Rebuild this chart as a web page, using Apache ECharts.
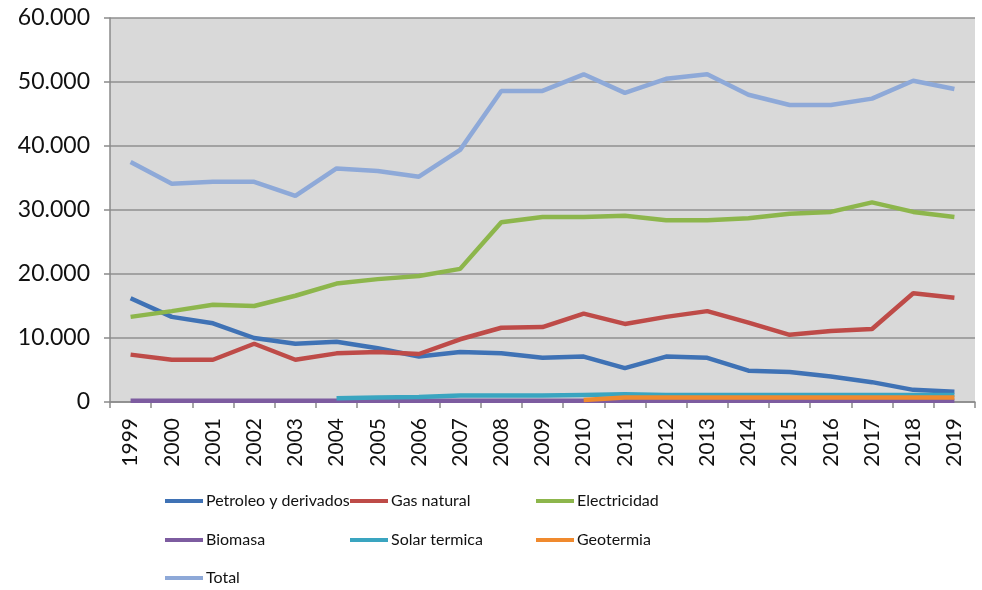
<!DOCTYPE html>
<html>
<head>
<meta charset="utf-8">
<script src="https://cdn.jsdelivr.net/npm/echarts@6/dist/echarts.min.js"></script>
<style>
  html, body { margin: 0; padding: 0; background: #fff; }
  #chart { width: 982px; height: 590px; }
</style>
</head>
<body>
<div id="chart"></div>
<script>
const years = ['1999','2000','2001','2002','2003','2004','2005','2006','2007','2008','2009',
               '2010','2011','2012','2013','2014','2015','2016','2017','2018','2019'];

const petroleo = [16200,13300,12300,10000,9100,9400,8400,7100,7800,7600,6900,
                  7100,5300,7100,6900,4900,4700,4000,3100,1900,1600];
const gasNatural = [7400,6600,6600,9100,6600,7600,7800,7500,9800,11600,11700,
                    13800,12200,13300,14200,12400,10500,11100,11400,17000,16300];
const electricidad = [13300,14200,15200,15000,16600,18500,19200,19700,20800,28100,28900,
                      28900,29100,28400,28400,28700,29400,29700,31200,29700,28900];
const biomasa = [200,200,200,200,200,200,200,200,200,200,200,
                 200,200,200,200,200,200,200,200,200,200];
const solarTermica = [null,null,null,null,null,600,700,800,1000,1000,1000,
                      1100,1200,1100,1100,1100,1100,1100,1100,1100,1100];
const geotermia = [null,null,null,null,null,null,null,null,null,null,null,
                   300,700,700,700,700,700,700,700,700,700];
const total = [37500,34100,34400,34400,32200,36500,36100,35200,39400,48600,48600,
               51200,48300,50500,51200,48000,46400,46400,47400,50200,48900];

const seriesNames = ['Petroleo y derivados','Gas natural','Electricidad','Biomasa','Solar termica','Geotermia','Total'];
const seriesData = [petroleo, gasNatural, electricidad, biomasa, solarTermica, geotermia, total];
const seriesColors = ['#3f72b5','#be4b48','#8db64c','#7d5ca0','#3aa5c0','#f08a2e','#8ea9d8'];

// legend slot per series: [left, top]
const legendPos = [[160,488],[345,488],[531,488],[160,527],[345,527],[531,527],[160,565]];

const FONT = 'Lato';
const fmt = (v) => String(v).replace(/\B(?=(\d{3})+(?!\d))/g, '.');

const chart = echarts.init(document.getElementById('chart'), null, { renderer: 'canvas' });

chart.setOption({
  animation: false,
  backgroundColor: '#fff',
  grid: {
    left: 110, right: 7, top: 18, bottom: 188,
    show: true, backgroundColor: '#d9d9d9', borderWidth: 0,
  },
  legend: seriesNames.map((name, i) => ({
    left: legendPos[i][0],
    top: legendPos[i][1],
    data: [name],
    itemWidth: 38,
    itemHeight: 4,
    icon: 'rect',
    textStyle: { fontFamily: FONT, fontSize: 16, color: '#111', padding: [0, 0, 0, -2] },
  })),
  xAxis: {
    type: 'category',
    data: years,
    boundaryGap: true,
    axisLine: { lineStyle: { color: '#8a8a8a', width: 1.5 } },
    axisTick: { show: true, length: 6, alignWithLabel: false, lineStyle: { color: '#8a8a8a', width: 1.5 } },
    axisLabel: { rotate: 90, margin: 16, interval: 0, fontFamily: FONT, fontSize: 21, color: '#111' },
  },
  yAxis: {
    type: 'value',
    min: 0, max: 60000, interval: 10000,
    axisLine: { show: true, lineStyle: { color: '#8a8a8a', width: 1.5 } },
    axisTick: { show: true, length: 6, lineStyle: { color: '#8a8a8a', width: 1.5 } },
    axisLabel: { margin: 20, fontFamily: FONT, fontSize: 23, color: '#111', formatter: fmt },
    splitLine: { show: true, lineStyle: { color: '#8f8f8f', width: 1.5 } },
  },
  series: seriesNames.map((name, i) => ({
    name,
    type: 'line',
    data: seriesData[i],
    symbol: 'none',
    color: seriesColors[i],
    lineStyle: { width: 4.5, color: seriesColors[i] },
  })),
});
</script>
</body>
</html>
